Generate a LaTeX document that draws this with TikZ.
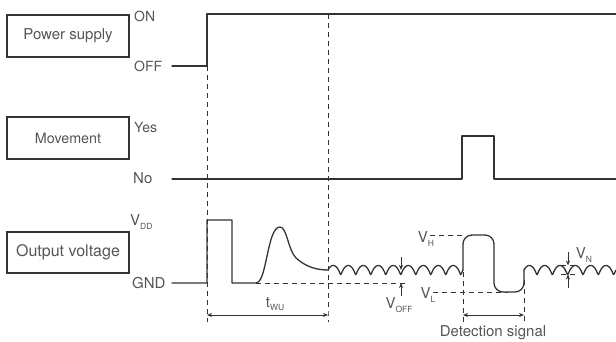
\documentclass[tikz,border=0pt]{standalone}
\usepackage{fontspec}
\setmainfont{TeX Gyre Heros}
\usetikzlibrary{arrows.meta}
\definecolor{ink}{HTML}{333333}
\definecolor{txt}{HTML}{555555}
\newcommand{\fs}[1]{\fontsize{#1}{#1}\selectfont}
\newcommand{\sbs}[1]{\raisebox{-0.45ex}{\fs{8.5}#1}}
\tikzset{
  lblbox/.style={draw=ink,line width=1.1pt,text=txt,inner sep=0pt,align=center,minimum width=122pt},
  lvl/.style={text=txt,anchor=west,inner sep=0pt},
  vlbl/.style={text=txt,inner sep=0pt,font=\fs{15}},
  sig/.style={ink,line width=1.3pt,line join=round,line cap=round},
  guide/.style={ink,line width=0.9pt,dash pattern=on 5pt off 4pt},
  dim/.style={{Stealth[length=5pt,width=4pt]}-{Stealth[length=5pt,width=4pt]},ink,line width=0.8pt},
  tick/.style={-{Stealth[length=5pt,width=4pt]},ink,line width=0.8pt},
  wavy/.style={domain=90:{90+360*#1},samples=220,smooth},
}

\begin{document}
\begin{tikzpicture}[x=1pt,y=-1pt]
\useasboundingbox (0,0) rectangle (616,342);
% label boxes
\node[lblbox,minimum height=42pt,font=\fs{15}] (pwr) at (68,36) {Power supply};
\node[lblbox,minimum height=42pt,font=\fs{14.3}] (mov) at (68,138) {Movement};
\node[lblbox,minimum height=41pt,font=\fs{16}] (out) at (68,252.5) {Output voltage};
% levels
\node[lvl,font=\fs{14}] (on) at (134,16) {ON};
\node[lvl,font=\fs{14}] (off) at (134,66) {OFF};
\node[lvl,font=\fs{14}] (yes) at (134,128) {Yes};
\node[lvl,font=\fs{15}] (no) at (133,178) {No};
\node[lvl,font=\fs{15}] (vdd) at (130,222) {V\sbs{DD}};
\node[lvl,font=\fs{15}] (gnd) at (132,283) {GND};
% time marks
\coordinate (t0) at (207,315);
\coordinate (t1) at (328,315);
\coordinate (d0) at (463,315);
\coordinate (d1) at (524,315);
% signals
\draw[sig] (172,66) -- (207,66) -- (207,14) -- (616,14);
\draw[sig] (172,179) -- (462,179) -- (462,136) -- (494,136) -- (494,179) -- (616,179);
\draw[sig] (172,283) -- (207,283) -- (207,220) -- (232,220) -- (232,283) -- (256,283)
  .. controls (267,283) and (267,227) .. (280,227)
  .. controls (287,227) and (288,250) .. (296,258)
  .. controls (305,266) and (315,270) .. (328,270);
\draw[sig] plot[wavy=9] ({328+(\x-90)/360*15-1.5*sin(\x)+1.5},{270+4.5*cos(\x)});
\draw[sig,rounded corners=9pt] (463,270) -- (463,235) -- (494,235) -- (494,292) -- (524,292) -- (524,270);
\draw[sig] plot[wavy=6] ({524+(\x-90)/360*15.33-1.5*sin(\x)+1.5},{270+4.5*cos(\x)});
% guides
\draw[guide] (207,66) -- (t0) -- ++(0,7);
\draw[guide] (328,14) -- (t1) -- ++(0,7);
\draw[guide] (256,283) -- (406,283);
\draw[guide] (430,235) -- (463,235);
\draw[guide] (433,292) -- (508,292);
\draw[guide] (463,272) -- (d0) -- ++(0,7);
\draw[guide] (524,280) -- (d1) -- ++(0,7);
\draw[guide] (561,265.5) -- (576,265.5);
\draw[guide] (561,274.5) -- (576,274.5);
% offsets
\draw[tick] (401,257) -- (401,270);
\draw[tick] (401,296) -- (401,283);
\draw[tick] (568,252) -- (568,265.5);
\draw[tick] (568,288) -- (568,274.5);
\draw[dim] (t0) -- (t1);
\draw[dim] (d0) -- (d1);
% labels
\node[vlbl] (twu) at (275,304) {t\sbs{WU}};
\node[vlbl] (voff) at (399,305) {V\sbs{OFF}};
\node[vlbl] (vh) at (426,239) {V\sbs{H}};
\node[vlbl] (vl) at (428,295) {V\sbs{L}};
\node[vlbl] (vn) at (584,255) {V\sbs{N}};
\node[vlbl] (det) at (493,333) {Detection signal};
\end{tikzpicture}
\end{document}
